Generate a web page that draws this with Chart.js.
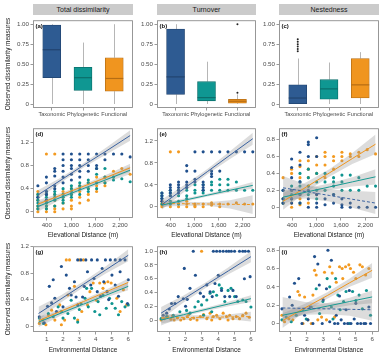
<!DOCTYPE html>
<html><head><meta charset="utf-8">
<script src="https://cdn.jsdelivr.net/npm/chart.js@4.4.1/dist/chart.umd.min.js"></script>
<style>
html,body{margin:0;padding:0;background:#fff;}
#wrap{position:relative;width:382px;height:358px;overflow:hidden;font-family:"Liberation Sans",Arial,sans-serif;}
canvas{position:absolute;}
.strip{position:absolute;background:#cbcbcb;color:#1a1a1a;font-size:7px;text-align:center;line-height:11px;height:11px;top:4px;white-space:nowrap;}
.ytitle{position:absolute;font-size:6.4px;color:#1a1a1a;white-space:nowrap;transform:translate(-50%,-50%) rotate(-90deg);}
.xtitle{position:absolute;font-size:6.5px;color:#1a1a1a;white-space:nowrap;transform:translate(-50%,-50%);}
</style></head><body><div id="wrap"></div>
<script>
// ---------------- DATA ----------------
const groups = ['Taxonomic','Phylogenetic','Functional'];
const stripTitles = ['Total dissimilarity','Turnover','Nestedness'];
const yTitle = 'Observed dissimilarity measures';
const elevTitle = 'Elevational Distance (m)';
const envTitle = 'Environmental Distance';

// box stats: [lower whisker, q1, median, q3, upper whisker]
const boxA = [[0,0.33,0.68,0.99,1.0],[0,0.17,0.33,0.46,0.77],[0,0.16,0.32,0.58,1.0]];
const boxB = [[0,0.12,0.34,0.94,1.0],[0,0.04,0.08,0.28,0.53],[0,0.01,0.035,0.06,0.12]];
const boxC = [[0,0,0.075,0.24,0.57],[0,0.06,0.19,0.305,0.52],[0,0.075,0.24,0.57,0.65]];
const outA = [[],[],[]];
const outB = [[],[],[1.0,0.14]];
const outC = [[0.66,0.69,0.72,0.75,0.78,0.81],[],[]];

const boxTicks = [0,0.25,0.5,0.75,1];
const boxTickLabels = ['0','0.25','0.50','0.75','1.00'];
const elevTicks = [400,1000,1600,2200];
const elevTickLabels = ['400','1,000','1,600','2,200'];
const envTicks = [1,2,3,4,5,6];
const envTickLabels = ['1','2','3','4','5','6'];
const yTicks04 = [0,0.4,0.8,1.2];
const yLabels04 = ['0','0.4','0.8','1.2'];
const yTicks02 = [0,0.2,0.4,0.6,0.8];
const yLabels02 = ['0','0.2','0.4','0.6','0.8'];
const yTicks02b = [0,0.2,0.4,0.6,0.8,1.0];
const yLabels02b = ['0','0.2','0.4','0.6','0.8','1.0'];

// elevational distance columns (m)
const elevCols = [180,390,595,800,1005,1210,1420,1625,1830,2040,2245,2450];
// values per column
const dTax = [[0.45,0.25],[0.6,0.5,0.35,0.3,0.2],[0.75,0.7,0.62,0.45,0.4],[1.0,0.9,0.8,0.7,0.6,0.5],[1.0,0.9,0.8,0.75,0.65,0.55],[1.0,0.9,0.8,0.7,0.6],[1.0,0.9,0.8,0.7],[1.0,0.8,0.75],[1.0,0.9],[1.0],[1.0],[0.95]];
const dPhy = [[0.3,0.25,0.2,0.15,0.1,0.05],[0.35,0.3,0.25,0.2,0.15,0.1,0.05],[0.35,0.3,0.25,0.2,0.1],[0.4,0.3,0.25,0.2,0.15],[0.45,0.4,0.35,0.3,0.25],[0.5,0.45,0.4,0.3],[0.55,0.5,0.4,0.35],[0.75,0.65,0.5,0.4],[0.75,0.6,0.5],[0.6,0.55],[0.57],[0.52]];
const dFun = [[0.35,0.3,0.2,0.1,0.05,0],[1.0,0.3,0.2,0.15,0.1,0.05,0],[1.0,0.3,0.2,0.1,0.05,0],[0.35,0.25,0.15,0.05],[0.4,0.3,0.2,0.1,0.05],[0.45,0.35,0.25,0.15],[0.5,0.4,0.3,0.2],[0.6,0.45,0.35],[0.6,0.5,0.45],[0.7,0.6],[0.75],[0.65]];
const eTax = [[0.25,0.2,0.15,0.1],[0.4,0.35,0.3,0.25,0.2],[0.45,0.4,0.35,0.3,0.25],[0.75,0.65,0.45,0.4,0.35],[1.0,0.65,0.5,0.45],[1.0,0.45,0.4,0.35,0.3],[1.0,0.65,0.6,0.55],[1.0,0.65],[1.0],[1.0],[1.0],[1.0]];
const ePhy = [[0.25,0.2,0.15,0.05],[0.3,0.25,0.2,0.1,0.05],[0.3,0.2,0.1,0.05],[0.35,0.3,0.2,0.15],[0.4,0.3,0.25],[0.4,0.3,0.25],[0.45,0.4,0.3],[0.5,0.4,0.3],[0.5,0.4,0.3],[0.45,0.3],[0.3],[0.3]];
const eFun = [[0.1,0.05,0.03,0],[1.0,0.1,0.05,0],[1.0,0.05,0],[0.1,0.05,0],[0.05,0.02,0],[0.05,0],[0.07,0.03],[0.05,0],[0.05],[0.07],[0.05],[0.05]];
const fTax = [[0.2,0.1,0.05],[0.57,0.47,0.35,0.2,0.1,0.05],[0.65,0.5,0.3,0.15,0.05],[0.77,0.74,0.6,0.2,0.1,0],[0.82,0.6,0.15,0.05,0],[0.1,0.03],[0.15,0.05],[0.1,0.03,0],[0.05,0],[0],[0],[0]];
const fPhy = [[0.2,0.1,0.05],[0.25,0.2,0.15,0.1],[0.4,0.3,0.25,0.15,0.05],[0.45,0.35,0.25,0.15],[0.4,0.3,0.2,0.1],[0.4,0.3,0.2],[0.35,0.3,0.25,0.15],[0.38,0.3,0.2],[0.38,0.2],[0.35,0.2],[0.25],[0.25]];
const fFun = [[0.35,0.1,0.05],[0.45,0.4,0.1,0.05,0],[0.55,0.48,0.35,0.1,0.03],[0.55,0.45,0.35,0.25,0.05],[0.6,0.5,0.4,0.15],[0.65,0.6,0.5,0.35],[0.6,0.55,0.45],[0.65,0.6,0.55],[0.63,0.6],[0.65,0.6],[0.68],[0.63]];

// fitted lines and confidence bands (elevation)
const elevBandX = [180,750,1315,1880,2450];
const dTaxFit = [0.29,0.55,0.81,1.06,1.32], dTaxLo = [0.21,0.505,0.77,1.0,1.23], dTaxHi = [0.37,0.595,0.85,1.12,1.41];
const dPhyFit = [0.09,0.25,0.405,0.56,0.72], dPhyLo = [0.0,0.215,0.375,0.515,0.65], dPhyHi = [0.17,0.285,0.435,0.605,0.79];
const dFunFit = [0.13,0.29,0.445,0.60,0.76], dFunLo = [0.06,0.255,0.415,0.555,0.69], dFunHi = [0.2,0.325,0.475,0.645,0.83];
const eTaxFit = [0.04,0.34,0.64,0.94,1.24], eTaxLo = [-0.05,0.28,0.59,0.87,1.13], eTaxHi = [0.13,0.40,0.69,1.01,1.35];
const ePhyFit = [0.03,0.12,0.21,0.30,0.39], ePhyLo = [-0.02,0.09,0.185,0.265,0.33], ePhyHi = [0.08,0.15,0.235,0.335,0.45];
const eFunFit = [0.06,0.055,0.05,0.045,0.04], eFunLo = [0.0,0.02,0.02,-0.03,-0.13], eFunHi = [0.12,0.09,0.08,0.12,0.21];
const fTaxFit = [0.23,0.185,0.14,0.095,0.05], fTaxLo = [0.09,0.105,0.07,-0.005,-0.08], fTaxHi = [0.37,0.265,0.21,0.195,0.18];
const fPhyFit = [0.12,0.18,0.24,0.30,0.36], fPhyLo = [0.04,0.135,0.20,0.245,0.27], fPhyHi = [0.20,0.225,0.28,0.355,0.45];
const fFunFit = [0.07,0.24,0.405,0.575,0.745], fFunLo = [-0.03,0.185,0.36,0.51,0.63], fFunHi = [0.17,0.295,0.45,0.64,0.86];

// environmental distance scatter [x, y]
const gTax = [[0.55,0.14],[0.85,0.05],[1.05,0.3],[1.16,0.6],[1.3,0.35],[1.4,0.7],[1.5,0.42],[1.6,0.22],[1.9,0.9],[2.0,0.29],[2.2,0.77],[2.4,0.57],[2.5,0.47],[2.7,0.67],[2.8,0.44],[2.9,0.32],[2.9,1.0],[3.1,1.0],[3.2,0.44],[3.3,0.6],[3.4,1.0],[3.5,0.82],[3.7,0.62],[3.75,1.0],[3.9,0.72],[4.1,0.52],[4.1,1.0],[4.3,0.45],[4.4,0.87],[4.5,0.67],[4.6,1.0],[4.7,0.52],[4.8,0.4],[4.9,1.0],[5.0,0.77],[5.2,0.62],[5.2,1.0],[5.4,0.45],[5.5,0.82],[5.5,1.0],[5.8,1.0],[5.95,0.34],[6.0,0.7]];
const gPhy = [[0.55,0.12],[0.8,0.04],[1.1,0.19],[1.4,0.14],[1.7,0.29],[2.0,0.12],[2.3,0.19],[2.5,0.39],[2.7,0.12],[2.9,0.06],[3.1,0.34],[3.35,0.42],[3.45,0.57],[3.55,0.29],[3.75,0.57],[3.95,0.22],[4.15,0.37],[4.25,0.17],[4.45,0.47],[4.65,0.27],[4.85,0.42],[5.0,0.34],[5.2,0.27],[5.4,0.17],[5.6,0.37],[5.8,0.29],[6.0,0.32],[1.9,0.22],[3.0,0.25]];
const gFun = [[0.55,0.04],[0.75,0.09],[0.95,0.02],[1.1,0.17],[1.3,0.24],[1.5,0.09],[1.8,0.32],[1.9,0.02],[2.1,0.09],[2.2,1.0],[2.3,0.47],[2.4,1.0],[2.7,0.6],[2.9,0.09],[3.0,1.0],[3.15,0.22],[3.25,1.0],[3.5,0.32],[3.65,0.52],[3.85,0.65],[4.05,0.39],[4.25,0.65],[4.45,0.57],[4.55,0.65],[4.75,0.67],[4.95,0.65],[5.3,0.42],[5.5,0.22],[5.7,0.55],[5.9,0.32]];
const hTax = [[0.63,0.07],[0.84,0.1],[1.0,0.16],[1.14,0.24],[1.35,0.24],[1.55,0.34],[1.86,0.31],[1.92,0.75],[2.0,0.2],[2.1,0.3],[2.27,0.46],[2.47,1.0],[2.6,0.65],[2.9,0.39],[3.1,0.34],[3.3,0.51],[3.5,0.41],[3.63,0.34],[3.7,1.0],[3.8,0.53],[3.9,1.0],[4.0,0.65],[4.1,1.0],[4.2,0.43],[4.3,1.0],[4.4,0.34],[4.5,1.0],[4.65,1.0],[4.7,0.34],[4.8,1.0],[4.9,0.43],[5.0,1.0],[5.1,0.34],[5.3,1.0],[5.5,1.0],[5.6,0.6],[5.65,1.0],[5.85,1.0],[5.95,0.63]];
const hPhy = [[0.5,0.02],[0.84,0.05],[1.25,0.07],[1.65,0.12],[2.06,0.14],[2.27,0.1],[2.57,0.19],[2.77,0.27],[2.98,0.22],[3.1,0.07],[3.3,0.29],[3.5,0.39],[3.6,0.12],[3.7,0.41],[3.9,0.36],[4.06,0.51],[4.2,0.46],[4.4,0.27],[4.6,0.43],[4.78,0.46],[5.0,0.34],[5.2,0.27],[5.5,0.29],[5.7,0.27],[6.0,0.19]];
const hFun = [[0.5,0.0],[0.7,0.02],[0.9,0.05],[1.1,0.01],[1.2,0.06],[1.3,0.0],[1.5,0.03],[1.7,0.0],[1.9,0.02],[2.1,0.05],[2.2,0.08],[2.3,0.01],[2.5,0.03],[2.7,0.0],[2.9,0.05],[2.98,1.0],[3.1,0.08],[3.3,0.02],[3.5,0.1],[3.6,0.0],[3.7,0.05],[3.9,0.07],[4.1,0.02],[4.3,0.1],[4.5,0.05],[4.6,0.0],[4.7,0.07],[4.9,0.02],[5.1,0.05],[5.3,0.02],[5.5,0.07],[5.7,0.1],[5.9,0.04]];
const iTax = [[0.47,0.16],[0.94,0.29],[1.1,0.2],[1.24,0.44],[1.5,0.49],[1.7,0.0],[1.86,0.09],[2.06,0.04],[2.2,0.18],[2.37,0],[2.47,0.73],[2.67,0.65],[2.76,0.42],[2.94,0],[3.0,0.26],[3.2,0.38],[3.29,0.8],[3.4,0.02],[3.5,0.69],[3.7,0],[3.8,0.09],[3.9,0],[4.0,0.3],[4.1,0.04],[4.3,0],[4.4,0.15],[4.5,0],[4.6,0.36],[4.7,0],[4.9,0.05],[5.0,0.22],[5.1,0],[5.3,0],[5.5,0],[5.6,0],[5.8,0.18],[5.9,0]];
const iPhy = [[0.47,0.04],[0.73,0.07],[1.04,0.02],[1.35,0.09],[1.76,0.15],[1.96,0.05],[2.27,0.18],[2.57,0.38],[2.78,0.11],[2.98,0.24],[3.24,0.49],[3.4,0.4],[3.5,0.18],[3.6,0.05],[3.76,0.49],[3.9,0.31],[4.04,0.15],[4.25,0.24],[4.4,0.35],[4.6,0],[4.8,0.35],[5.0,0.25],[5.2,0.31],[5.4,0.16],[5.65,0.36],[5.9,0.09]];
const iFun = [[0.47,0.09],[0.63,0.02],[0.9,0.05],[1.14,0.04],[1.45,0.35],[1.55,0.31],[1.76,0],[1.86,0.29],[2.06,0.04],[2.27,0],[2.37,0.31],[2.47,0.58],[2.57,0.53],[2.67,0.04],[2.9,0.07],[3.08,0.56],[3.2,0.04],[3.4,0.62],[3.55,0.55],[3.7,0.07],[3.8,0.45],[4.0,0.62],[4.16,0.6],[4.2,0.49],[4.37,0.62],[4.57,0.64],[4.67,0.6],[4.86,0.56],[5.0,0.49],[5.25,0.64],[5.4,0.62],[5.6,0.53],[5.8,0.6]];

const envBandX = [0.5,1.875,3.25,4.625,6.0];
const gTaxFit = [0.19,0.41,0.63,0.85,1.07], gTaxLo = [0.09,0.355,0.585,0.795,0.98], gTaxHi = [0.29,0.465,0.675,0.905,1.16];
const gPhyFit = [0.06,0.195,0.33,0.465,0.60], gPhyLo = [-0.02,0.16,0.30,0.43,0.54], gPhyHi = [0.13,0.23,0.36,0.50,0.66];
const gFunFit = [0.08,0.225,0.37,0.515,0.66], gFunLo = [0.02,0.19,0.34,0.48,0.60], gFunHi = [0.14,0.26,0.40,0.55,0.72];
const hTaxFit = [0.10,0.305,0.51,0.715,0.92], hTaxLo = [0.01,0.255,0.47,0.665,0.84], hTaxHi = [0.19,0.355,0.55,0.765,1.0];
const hPhyFit = [0.0,0.0775,0.155,0.2325,0.31], hPhyLo = [-0.08,0.05,0.13,0.2,0.26], hPhyHi = [0.06,0.105,0.18,0.265,0.36];
const hFunFit = [0.03,0.035,0.04,0.045,0.05], hFunLo = [-0.05,0.0,0.01,0.01,-0.02], hFunHi = [0.1,0.07,0.07,0.08,0.12];
const iTaxFit = [0.17,0.165,0.16,0.155,0.15], iTaxLo = [0.05,0.095,0.10,0.085,0.03], iTaxHi = [0.29,0.235,0.22,0.225,0.27];
const iPhyFit = [0.09,0.14,0.19,0.24,0.29], iPhyLo = [0.02,0.1,0.155,0.2,0.22], iPhyHi = [0.16,0.18,0.225,0.28,0.36];
const iFunFit = [0.03,0.17,0.305,0.445,0.58], iFunLo = [-0.05,0.125,0.27,0.40,0.50], iFunHi = [0.11,0.215,0.34,0.49,0.66];

// ---------------- STYLE / LAYOUT ----------------
const FONT = '"Liberation Sans", Arial, sans-serif';
const YW = 24, XH = 14, PT = 5, PR = 5;
const COLS = [[33,133],[157,256],[279,379]];
const ROWS = [[20,108],[128,218],[246,332]];
const PCOL = {tax:'#20508d', phy:'#0e948f', fun:'#f39a20'};
const LCOL = {tax:'#3a62a0', phy:'#199a92', fun:'#f0951c'};
const BAND = 'rgba(150,150,150,0.33)';
const boxFill = ['#2e5b92','#0f9792','#f0951f'];
const boxLine = ['#22446f','#0b6f6b','#b56d14'];
const TICKC = '#4d4d4d';

const wrap = document.getElementById('wrap');
function addDiv(cls, text, style){ const d=document.createElement('div'); d.className=cls; d.textContent=text; Object.assign(d.style, style); wrap.appendChild(d); return d; }
function makeCanvas(col,row){
  const [L,R]=COLS[col], [T,B]=ROWS[row];
  const c=document.createElement('canvas');
  const w=R-L+YW+PR, h=B-T+PT+XH;
  c.width=w; c.height=h; c.style.width=w+'px'; c.style.height=h+'px';
  c.style.left=(L-YW)+'px'; c.style.top=(T-PT)+'px';
  wrap.appendChild(c); return c;
}
const framePlugin = { id:'frame',
  afterDatasetsDraw(chart, args, opts){
    const a=chart.chartArea, ctx=chart.ctx;
    ctx.save(); ctx.strokeStyle='#8d8d8d'; ctx.lineWidth=0.9;
    ctx.strokeRect(a.left+0.5, a.top+0.5, a.right-a.left-1, a.bottom-a.top-1);
    if(opts && opts.tag){ ctx.font='bold 6px '+FONT; ctx.fillStyle='#111'; ctx.textBaseline='top'; ctx.textAlign='left'; ctx.fillText(opts.tag, a.left+2.5, a.top+3.5); }
    ctx.restore();
  }};
Chart.register(framePlugin);

function axis(min,max,ticks,labels,isX,fontSize){
  return {type:'linear',min,max,offset:false,
    afterBuildTicks:s=>{s.ticks=ticks.map(v=>({value:v}));},
    afterFit:s=>{ if(isX) s.height=XH; else s.width=YW; },
    ticks:{font:{size:fontSize||6.2,family:FONT},color:TICKC,padding:isX?1:1.5,maxRotation:0,autoSkip:false,callback:(v,i)=>labels[i]},
    grid:{drawOnChartArea:false,drawTicks:true,tickLength:2.5,color:'#555',lineWidth:0.6,offset:false},
    border:{display:false}};
}
function baseOptions(scales, tag, extra){
  return {responsive:false, animation:false, devicePixelRatio:1, events:[],
    layout:{padding:{left:0,top:PT,right:PR,bottom:0}},
    scales, plugins:Object.assign({legend:{display:false}, tooltip:{enabled:false}, frame:{tag}}, extra||{})};
}

// ---------------- BOX PLOTS ----------------
function boxPanel(col, stats, outs, tag){
  const c=makeCanvas(col,0);
  const parts={id:'boxparts',
    beforeDatasetsDraw(chart){
      const x=chart.scales.x, y=chart.scales.y, ctx=chart.ctx;
      ctx.save(); ctx.strokeStyle='#a3a3a3'; ctx.lineWidth=0.8;
      stats.forEach((s,i)=>{ const px=Math.round(x.getPixelForValue(i))+0.5;
        ctx.beginPath(); ctx.moveTo(px,y.getPixelForValue(s[0])); ctx.lineTo(px,y.getPixelForValue(s[1]));
        ctx.moveTo(px,y.getPixelForValue(s[3])); ctx.lineTo(px,y.getPixelForValue(s[4])); ctx.stroke(); });
      ctx.restore();
    },
    afterDatasetsDraw(chart){
      const x=chart.scales.x, y=chart.scales.y, ctx=chart.ctx;
      ctx.save(); ctx.lineWidth=1.2;
      stats.forEach((s,i)=>{ const px=x.getPixelForValue(i), py=y.getPixelForValue(s[2]);
        ctx.strokeStyle=boxLine[i]; ctx.beginPath(); ctx.moveTo(px-9,py); ctx.lineTo(px+9,py); ctx.stroke(); });
      ctx.restore();
    }};
  const outPts=[]; outs.forEach((arr,i)=>arr.forEach(v=>outPts.push({x:i,y:v})));
  new Chart(c,{type:'scatter',
    data:{datasets:[
      {type:'scatter',data:outPts,pointRadius:1,pointBackgroundColor:'#222',pointBorderWidth:0,order:0},
      {type:'bar',data:stats.map((s,i)=>({x:i,y:[s[1],s[3]]})),backgroundColor:boxFill,borderColor:boxLine,borderWidth:0.8,borderSkipped:false,barThickness:18,order:1}
    ]},
    options:baseOptions({x:axis(-0.6,2.6,[0,1,2],groups,true,5.6), y:axis(-0.05,1.05,boxTicks,boxTickLabels,false)}, tag),
    plugins:[parts]});
}
boxPanel(0, boxA, outA, '(a)');
boxPanel(1, boxB, outB, '(b)');
boxPanel(2, boxC, outC, '(c)');

// ---------------- SCATTER PANELS ----------------
function colPoints(cols){ const out=[]; cols.forEach((arr,i)=>arr.forEach(v=>out.push({x:elevCols[i],y:v}))); return out; }
function pairPoints(arr){ return arr.map(p=>({x:p[0],y:p[1]})); }
function scatterPanel(col,row,p){
  const c=makeCanvas(col,row);
  const ser=['tax','phy','fun'];
  const ds=[];
  ser.forEach(s=>ds.push({type:'scatter',data:p.pts[s],pointRadius:1.55,pointBackgroundColor:PCOL[s],pointBorderWidth:0,order:3}));
  ser.forEach(s=>{ const f=p.fit[s];
    ds.push({type:'line',data:p.bx.map((x,i)=>({x,y:f.lo[i]})),borderWidth:0,borderColor:'rgba(0,0,0,0)',pointRadius:0,fill:false,order:2});
    ds.push({type:'line',data:p.bx.map((x,i)=>({x,y:f.hi[i]})),borderWidth:0,borderColor:'rgba(0,0,0,0)',pointRadius:0,fill:'-1',backgroundColor:BAND,order:2});
  });
  ser.forEach(s=>{ const f=p.fit[s];
    ds.push({type:'line',data:p.bx.map((x,i)=>({x,y:f.fit[i]})),borderColor:LCOL[s],borderWidth:1,pointRadius:0,fill:false,borderDash:f.dash?[3,2]:[],order:1});
  });
  new Chart(c,{type:'scatter',data:{datasets:ds},
    options:baseOptions({x:axis(p.x[0],p.x[1],p.xt,p.xl,true), y:axis(p.y[0],p.y[1],p.yt,p.yl,false)}, p.tag)});
}
scatterPanel(0,1,{tag:'(d)',pts:{tax:colPoints(dTax),phy:colPoints(dPhy),fun:colPoints(dFun)},bx:elevBandX,
  fit:{tax:{fit:dTaxFit,lo:dTaxLo,hi:dTaxHi},phy:{fit:dPhyFit,lo:dPhyLo,hi:dPhyHi},fun:{fit:dFunFit,lo:dFunLo,hi:dFunHi}},
  x:[60,2520],xt:elevTicks,xl:elevTickLabels,y:[-0.109,1.447],yt:yTicks04,yl:yLabels04});
scatterPanel(1,1,{tag:'(e)',pts:{tax:colPoints(eTax),phy:colPoints(ePhy),fun:colPoints(eFun)},bx:elevBandX,
  fit:{tax:{fit:eTaxFit,lo:eTaxLo,hi:eTaxHi},phy:{fit:ePhyFit,lo:ePhyLo,hi:ePhyHi},fun:{fit:eFunFit,lo:eFunLo,hi:eFunHi,dash:true}},
  x:[57,2530],xt:elevTicks,xl:elevTickLabels,y:[-0.205,1.431],yt:yTicks04,yl:yLabels04});
scatterPanel(2,1,{tag:'(f)',pts:{tax:colPoints(fTax),phy:colPoints(fPhy),fun:colPoints(fFun)},bx:elevBandX,
  fit:{tax:{fit:fTaxFit,lo:fTaxLo,hi:fTaxHi,dash:true},phy:{fit:fPhyFit,lo:fPhyLo,hi:fPhyHi},fun:{fit:fFunFit,lo:fFunLo,hi:fFunHi}},
  x:[80,2535],xt:elevTicks,xl:elevTickLabels,y:[-0.126,0.933],yt:yTicks02,yl:yLabels02});
scatterPanel(0,2,{tag:'(g)',pts:{tax:pairPoints(gTax),phy:pairPoints(gPhy),fun:pairPoints(gFun)},bx:envBandX,
  fit:{tax:{fit:gTaxFit,lo:gTaxLo,hi:gTaxHi},phy:{fit:gPhyFit,lo:gPhyLo,hi:gPhyHi},fun:{fit:gFunFit,lo:gFunLo,hi:gFunHi}},
  x:[0.16,6.29],xt:envTicks,xl:envTickLabels,y:[-0.09,1.207],yt:yTicks04,yl:yLabels04});
scatterPanel(1,2,{tag:'(h)',pts:{tax:pairPoints(hTax),phy:pairPoints(hPhy),fun:pairPoints(hFun)},bx:envBandX,
  fit:{tax:{fit:hTaxFit,lo:hTaxLo,hi:hTaxHi},phy:{fit:hPhyFit,lo:hPhyLo,hi:hPhyHi},fun:{fit:hFunFit,lo:hFunLo,hi:hFunHi,dash:true}},
  x:[0.25,6.31],xt:envTicks,xl:envTickLabels,y:[-0.174,1.072],yt:yTicks02b,yl:yLabels02b});
scatterPanel(2,2,{tag:'(i)',pts:{tax:pairPoints(iTax),phy:pairPoints(iPhy),fun:pairPoints(iFun)},bx:envBandX,
  fit:{tax:{fit:iTaxFit,lo:iTaxLo,hi:iTaxHi,dash:true},phy:{fit:iPhyFit,lo:iPhyLo,hi:iPhyHi},fun:{fit:iFunFit,lo:iFunLo,hi:iFunHi}},
  x:[0.29,6.42],xt:envTicks,xl:envTickLabels,y:[-0.0925,0.8435],yt:yTicks02,yl:yLabels02});

// ---------------- TEXT ----------------
COLS.forEach((cr,i)=>addDiv('strip',stripTitles[i],{left:cr[0]+'px',width:(cr[1]-cr[0])+'px'}));
ROWS.forEach(rr=>addDiv('ytitle',yTitle,{left:'7px',top:((rr[0]+rr[1])/2)+'px'}));
COLS.forEach(cr=>{
  addDiv('xtitle',elevTitle,{left:((cr[0]+cr[1])/2)+'px',top:'233.5px'});
  addDiv('xtitle',envTitle,{left:((cr[0]+cr[1])/2)+'px',top:'348.5px'});
});
</script></body></html>
